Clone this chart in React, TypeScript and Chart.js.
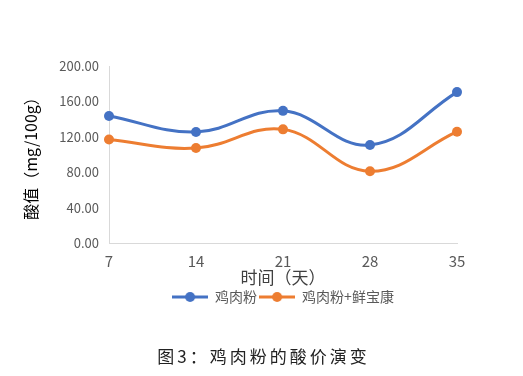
import React, { useEffect, useRef } from 'react';
import { Chart, registerables } from 'chart.js';

Chart.register(...registerables);

const days = ['7', '14', '21', '28', '35'];
const seriesNames = ['鸡肉粉', '鸡肉粉+鲜宝康'];
const chickenPowder = [143.6, 125.5, 149.3, 110.7, 170.5];
const withXianbaokang = [117.0, 107.3, 128.4, 81.1, 125.8];
const seriesColors = ['#4472C4', '#ED7D31'];
const yMin = 0;
const yMax = 200;
const yStep = 40;
const xTitle = '时间（天）';
const yTitle = '酸值（mg/100g）';
const caption = '图3：鸡肉粉的酸价演变';

const FONT = "'Noto Sans CJK SC', 'Noto Sans', sans-serif";

function legendIcon(color: string) {
  const c = document.createElement('canvas');
  c.width = 36;
  c.height = 12;
  const ctx = c.getContext('2d')!;
  ctx.strokeStyle = color;
  ctx.lineWidth = 3;
  ctx.beginPath();
  ctx.moveTo(0, 6);
  ctx.lineTo(36, 6);
  ctx.stroke();
  ctx.fillStyle = color;
  ctx.beginPath();
  ctx.arc(18, 6, 5, 0, Math.PI * 2);
  ctx.fill();
  return c;
}

export default function App() {
  const ref = useRef<HTMLCanvasElement | null>(null);

  useEffect(() => {
    if (!ref.current) return;
    const icons = seriesColors.map(legendIcon);
    const chart = new Chart(ref.current, {
      type: 'line',
      data: {
        labels: days,
        datasets: [chickenPowder, withXianbaokang].map((d, i) => ({
          label: seriesNames[i],
          data: d,
          borderColor: seriesColors[i],
          backgroundColor: seriesColors[i],
          borderWidth: 3,
          pointRadius: 5,
          pointBorderWidth: 0,
          pointBackgroundColor: seriesColors[i],
          tension: 0.4,
          fill: false,
        })),
      },
      options: {
        responsive: false,
        animation: false,
        layout: { padding: { left: 21, right: 66, top: 66, bottom: 62 } },
        plugins: {
          title: { display: false },
          tooltip: { enabled: false },
          legend: {
            position: 'bottom',
            fullSize: false,
            labels: {
              usePointStyle: true,
              pointStyleWidth: 36,
              boxHeight: 12,
              padding: 2,
              color: '#595959',
              font: { family: FONT, size: 14 },
              generateLabels: (ch: any) => {
                const items = Chart.defaults.plugins.legend.labels.generateLabels(ch);
                return items.map((it: any, i: number) => ({ ...it, pointStyle: icons[i] }));
              },
            },
          },
        },
        scales: {
          x: {
            type: 'category',
            offset: false,
            grid: { display: false, drawTicks: false },
            border: { display: true, color: '#D9D9D9', width: 1 },
            ticks: { color: '#595959', padding: 9, font: { family: FONT, size: 15 }, maxRotation: 0 },
            title: {
              display: true,
              text: xTitle,
              color: '#404040',
              padding: 0,
              font: { family: FONT, size: 17 },
            },
            afterFit: (s: any) => { s.height = 45; },
          },
          y: {
            min: yMin,
            max: yMax,
            grid: { display: false, drawTicks: false },
            border: { display: true, color: '#D9D9D9', width: 1 },
            ticks: {
              stepSize: yStep,
              color: '#595959',
              padding: 10,
              font: { family: FONT, size: 13 },
              callback: (v: any) => Number(v).toFixed(2),
            },
            title: {
              display: true,
              text: yTitle,
              color: '#000000',
              padding: 0,
              font: { family: FONT, size: 16 },
            },
            afterFit: (s: any) => { s.width = 88; },
          },
        },
      },
    } as any);
    return () => chart.destroy();
  }, []);

  return (
    <div style={{ position: 'fixed', left: 0, top: 0, width: 523, height: 376, background: '#fff' }}>
      <canvas ref={ref} width={523} height={376} style={{ display: 'block' }} />
      <div
        style={{
          position: 'absolute',
          left: 0,
          width: 523,
          top: 346,
          textAlign: 'center',
          fontFamily: FONT,
          fontSize: 17,
          letterSpacing: 3,
          color: '#222',
          paddingLeft: 2,
          lineHeight: '20px',
        }}
      >
        {caption}
      </div>
    </div>
  );
}
